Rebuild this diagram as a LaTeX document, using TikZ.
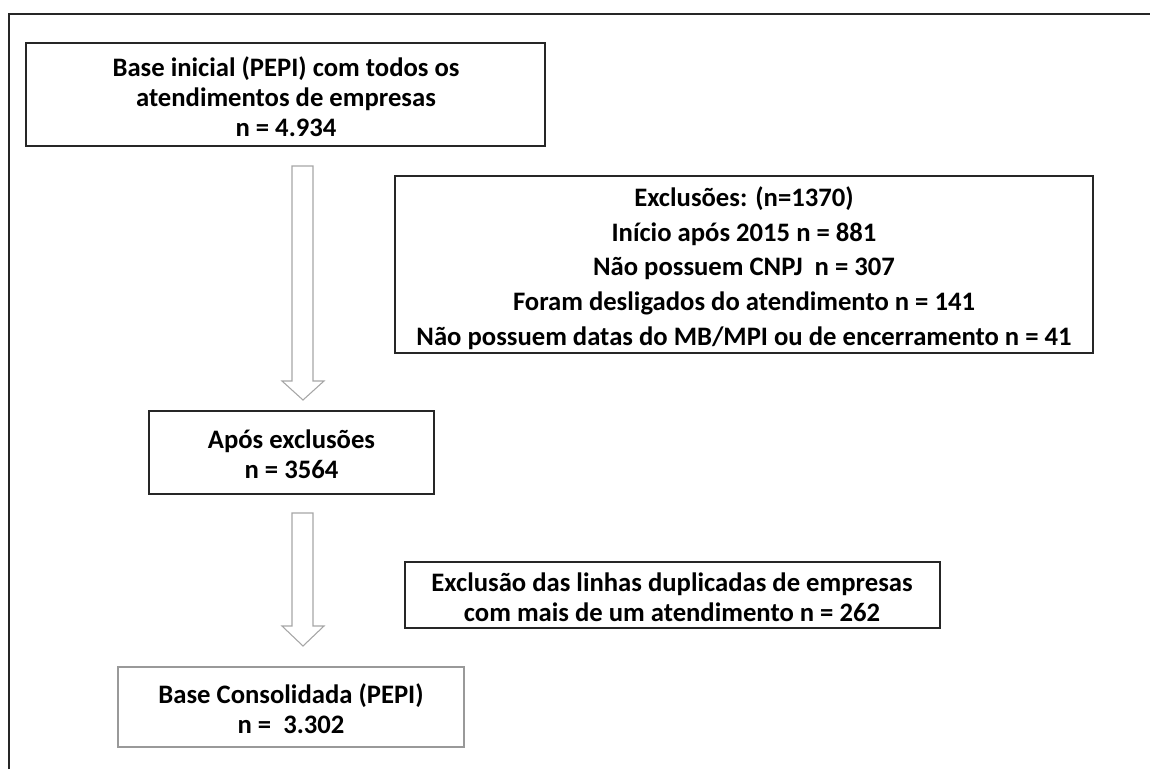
\documentclass[tikz,border=0pt]{standalone}
\usepackage{fontspec}
\setmainfont{Carlito}
\begin{document}
\begin{tikzpicture}[x=0.75pt,y=-0.75pt,
  boxline/.style={draw=black!85,line width=1.5pt},
  greyline/.style={draw=black!40,line width=1pt},
  blockarrow/.style={draw=black!35,line width=0.8pt,fill=white,line join=miter},
  txt/.style={align=center,inner sep=0pt,font=\bfseries\fontsize{20}{22.5}\selectfont,text=black}]
\useasboundingbox (0,0) rectangle (1150,769);
% outer frame
\draw[line width=1.5pt,draw=black!85] (9,769) -- (9,14) -- (1150,14);
% boxes
\draw[boxline] (26,43) rectangle (545,146);
\node[txt] (t1) at (286,97) {Base inicial (PEPI) com todos os\\atendimentos de empresas\\n = 4.934};
\draw[boxline] (395,176) rectangle (1093,353);
\node[txt,font=\bfseries\fontsize{20}{26}\selectfont] (t2) at (744,268) {Exclusões: (n=1370)\\Início após 2015 n = 881\\Não possuem CNPJ~~n = 307\\Foram desligados do atendimento n = 141\\Não possuem datas do MB/MPI ou de encerramento n = 41};
\draw[boxline] (149,411) rectangle (434,494);
\node[txt] (t3) at (291.5,454) {Após exclusões\\n = 3564};
\draw[boxline] (405,562) rectangle (940,628);
\node[txt] (t4) at (672,597) {Exclusão das linhas duplicadas de empresas\\com mais de um atendimento n = 262};
\draw[greyline] (118,667) rectangle (464,747);
\node[txt] (t5) at (291,709) {Base Consolidada (PEPI)\\n =~~3.302};
% block arrows
\draw[blockarrow] (292,166) -- (313,166) -- (313,381) -- (324,381) -- (303,400) -- (282,381) -- (292,381) -- cycle;
\draw[blockarrow] (292,513) -- (313,513) -- (313,626) -- (324,626) -- (303,646) -- (282,626) -- (292,626) -- cycle;
\end{tikzpicture}
\end{document}
